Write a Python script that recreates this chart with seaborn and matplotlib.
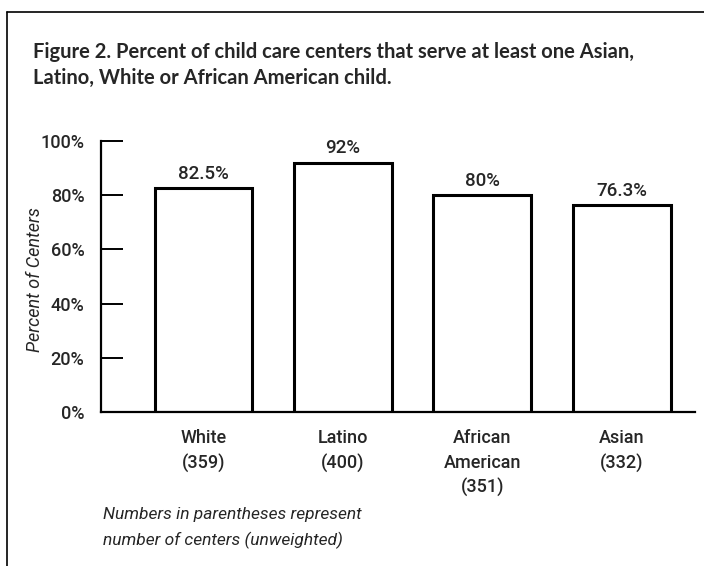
import matplotlib
matplotlib.use("Agg")
import matplotlib.pyplot as plt
import seaborn as sns
import pandas as pd

# Data
groups = ["White", "Latino", "African\nAmerican", "Asian"]
counts = [359, 400, 351, 332]
percents = [82.5, 92.0, 80.0, 76.3]
value_labels = ["82.5%", "92%", "80%", "76.3%"]
y_ticks = [0, 20, 40, 60, 80, 100]
y_tick_labels = ["0%", "20%", "40%", "60%", "80%", "100%"]

tick_names = [f"{g}\n({n})" for g, n in zip(groups, counts)]
df = pd.DataFrame({"group": tick_names, "percent": percents})

sns.set_theme(style="white")
narrow = ["Roboto", "DejaVu Sans"]
plt.rcParams["font.family"] = narrow

fig = plt.figure(figsize=(7.04, 5.66), dpi=100)
ax = fig.add_axes([101 / 704, 1 - 412 / 566, (695 - 101) / 704, (412 - 141) / 566])

sns.barplot(data=df, x="group", y="percent", ax=ax, color="white",
            edgecolor="black", linewidth=2.2, width=0.70, saturation=1)

ax.set_ylim(0, 100)
ax.set_xlim(-0.734, 3.525)
ax.set_yticks(y_ticks)
ax.set_yticklabels(y_tick_labels, fontsize=13, fontweight="medium")
ax.tick_params(axis="y", left=True, direction="in", length=16, width=1.4, pad=12,
               color="black")
ax.set_xticks(range(len(tick_names)))
ax.set_xticklabels(tick_names, fontsize=13, fontweight="medium", linespacing=1.45)
ax.tick_params(axis="x", length=0, pad=12.5)
ax.set_xlabel("")
ax.set_ylabel("Percent of Centers", fontsize=13, style="italic")
ax.yaxis.set_label_coords(-0.096, 0.487)

for s in ["top", "right"]:
    ax.spines[s].set_visible(False)
for s in ["left", "bottom"]:
    ax.spines[s].set_color("black")
    ax.spines[s].set_linewidth(1.6)

for i, (v, lab) in enumerate(zip(percents, value_labels)):
    ax.annotate(lab, (i, v), xytext=(0, 4), textcoords="offset points",
                ha="center", va="bottom", fontsize=13.5, fontweight="medium")

# Title and footnote
title_font = ["Lato", "DejaVu Sans"]
fig.text(33 / 704, 1 - 52 / 566,
         "Figure 2. Percent of child care centers that serve at least one Asian,",
         fontsize=14.5, fontweight="bold", family=title_font, va="center", ha="left")
fig.text(33 / 704, 1 - 78 / 566,
         "Latino, White or African American child.",
         fontsize=14.5, fontweight="bold", family=title_font, va="center", ha="left")

fig.text(103 / 704, 1 - 514 / 566, "Numbers in parentheses represent",
         fontsize=12.5, style="italic", va="center", ha="left")
fig.text(103 / 704, 1 - 540 / 566, "number of centers (unweighted)",
         fontsize=12.5, style="italic", va="center", ha="left")

# Frame lines around the figure panel
fig.add_artist(plt.Line2D([7 / 704, 7 / 704], [0, 1 - 12 / 566], color="black", lw=1.2,
                          transform=fig.transFigure))
fig.add_artist(plt.Line2D([7 / 704, 1], [1 - 12 / 566, 1 - 12 / 566], color="black", lw=1.2,
                          transform=fig.transFigure))

fig.savefig("out.png", dpi=100)
